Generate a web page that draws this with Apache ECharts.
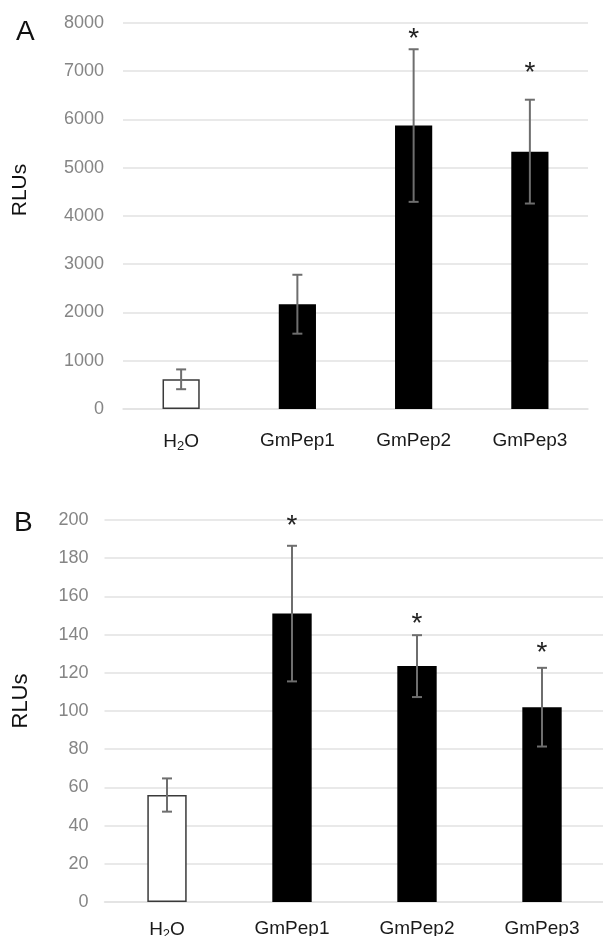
<!DOCTYPE html>
<html>
<head>
<meta charset="utf-8">
<script src="https://cdn.jsdelivr.net/npm/echarts@6/dist/echarts.min.js"></script>
<style>
  html, body { margin: 0; padding: 0; background: #fff; }
  #chart { width: 603px; height: 936px; }
</style>
</head>
<body>
<div id="chart"></div>
<script>
const categories = ["H2O", "GmPep1", "GmPep2", "GmPep3"];

// panel A
const meanA = [615, 2170, 5870, 5330];
const errA = [205, 610, 1580, 1075];
const starA = [null, null, 7800, 7100];

// panel B
const meanB = [56, 151, 123.5, 102];
const errB = [8.7, 35.5, 16.2, 20.6];
const starB = [null, 200.5, 149, 134];

const FONT = "'Liberation Sans', Arial, Helvetica, sans-serif";
const GRID_COLOR = "#e2e2e2";

function barData(means) {
  return means.map((v, i) => ({
    value: v,
    itemStyle: i === 0
      ? { color: "#fff", borderColor: "#3a3a3a", borderWidth: 1.5 }
      : { color: "#000" },
  }));
}

function errData(means, errs) {
  return means.map((v, i) => [i, v - errs[i], v + errs[i]]);
}

function starData(stars) {
  return stars.map((v, i) => [i, v]).filter((d) => d[1] != null);
}

function renderErr(params, api) {
  const lo = api.coord([api.value(0), api.value(1)]);
  const hi = api.coord([api.value(0), api.value(2)]);
  const half = 5;
  const style = { stroke: "#6e6e6e", lineWidth: 2 };
  return {
    type: "group",
    children: [
      { type: "line", shape: { x1: hi[0], y1: hi[1], x2: lo[0], y2: lo[1] }, style },
      { type: "line", shape: { x1: hi[0] - half, y1: hi[1], x2: hi[0] + half, y2: hi[1] }, style },
      { type: "line", shape: { x1: lo[0] - half, y1: lo[1], x2: lo[0] + half, y2: lo[1] }, style },
    ],
  };
}

function renderStar(params, api) {
  const p = api.coord([api.value(0), api.value(1)]);
  return {
    type: "text",
    x: p[0],
    y: p[1] + 7,
    style: {
      text: "*",
      fontSize: 28,
      fontFamily: FONT,
      fill: "#222",
      align: "center",
      verticalAlign: "middle",
    },
  };
}

function xAxisFor(gridIndex, margin) {
  return {
    type: "category",
    gridIndex,
    data: categories,
    axisLine: { show: true, lineStyle: { color: GRID_COLOR, width: 1.5 } },
    axisTick: { show: false },
    axisLabel: {
      margin,
      color: "#1a1a1a",
      fontSize: 19,
      fontFamily: FONT,
      formatter: (v) => (v === "H2O" ? "H{sub|2}O" : v),
      rich: {
        sub: { fontSize: 13, fontFamily: FONT, color: "#1a1a1a", padding: [9, 0, 0, 0] },
      },
    },
  };
}

function yAxisFor(gridIndex, max, interval, margin) {
  return {
    type: "value",
    gridIndex,
    min: 0,
    max,
    interval,
    axisLine: { show: false },
    axisTick: { show: false },
    splitLine: { lineStyle: { color: GRID_COLOR, width: 1.5 } },
    axisLabel: {
      margin,
      color: "#858585",
      fontSize: 18,
      fontFamily: FONT,
      formatter: (v) => String(v),
    },
  };
}

const chart = echarts.init(document.getElementById("chart"), null, { renderer: "canvas" });

chart.setOption({
  backgroundColor: "#fff",
  animation: false,
  grid: [
    { left: 123, top: 22.7, width: 465, height: 386.3, outerBoundsMode: "none", containLabel: false },
    { left: 104.5, top: 520, width: 500, height: 382, outerBoundsMode: "none", containLabel: false },
  ],
  xAxis: [xAxisFor(0, 22), xAxisFor(1, 17)],
  yAxis: [yAxisFor(0, 8000, 1000, 19), yAxisFor(1, 200, 20, 16)],
  graphic: [
    { type: "text", left: 16, top: 18, style: { text: "A", fontSize: 28, fontFamily: FONT, fill: "#111" } },
    { type: "text", left: 14, top: 509, style: { text: "B", fontSize: 28, fontFamily: FONT, fill: "#111" } },
    {
      type: "text", x: 20.5, y: 190, rotation: Math.PI / 2,
      style: { text: "RLUs", fontSize: 21, fontFamily: FONT, fill: "#111", align: "center", verticalAlign: "middle" },
    },
    {
      type: "text", x: 21, y: 701, rotation: Math.PI / 2,
      style: { text: "RLUs", fontSize: 22, fontFamily: FONT, fill: "#111", align: "center", verticalAlign: "middle" },
    },
  ],
  series: [
    { type: "bar", xAxisIndex: 0, yAxisIndex: 0, barWidth: "32%", data: barData(meanA) },
    { type: "custom", xAxisIndex: 0, yAxisIndex: 0, renderItem: renderErr, encode: { x: 0, y: [1, 2] }, data: errData(meanA, errA), z: 5 },
    { type: "custom", xAxisIndex: 0, yAxisIndex: 0, renderItem: renderStar, encode: { x: 0, y: 1 }, data: starData(starA), z: 5 },
    { type: "bar", xAxisIndex: 1, yAxisIndex: 1, barWidth: "31.5%", data: barData(meanB) },
    { type: "custom", xAxisIndex: 1, yAxisIndex: 1, renderItem: renderErr, encode: { x: 0, y: [1, 2] }, data: errData(meanB, errB), z: 5 },
    { type: "custom", xAxisIndex: 1, yAxisIndex: 1, renderItem: renderStar, encode: { x: 0, y: 1 }, data: starData(starB), z: 5 },
  ],
});
</script>
</body>
</html>
